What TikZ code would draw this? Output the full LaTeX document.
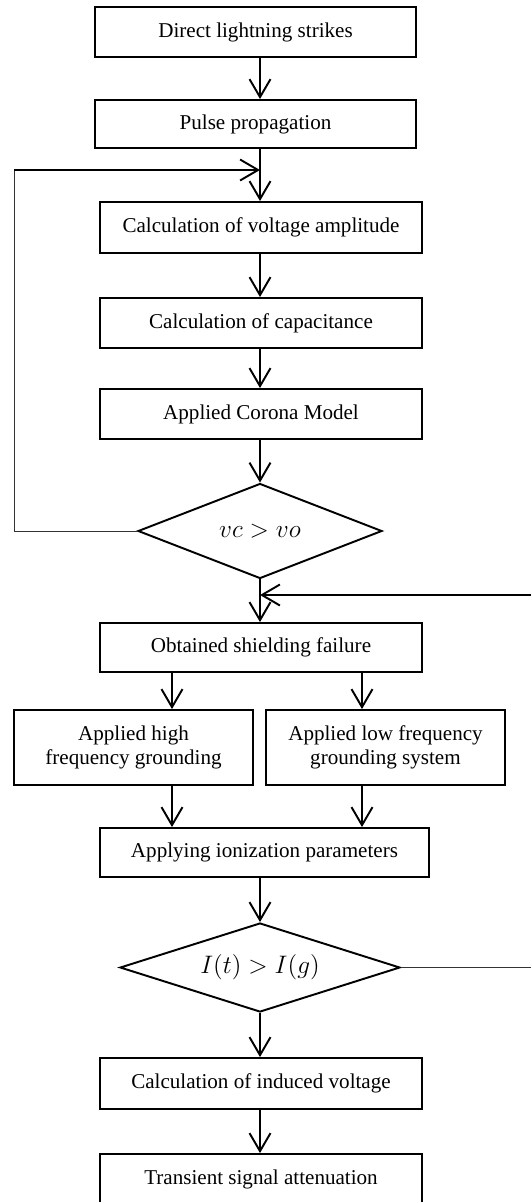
\documentclass[tikz,border=0pt]{standalone}
\usepackage{fontspec}
\setmainfont{Liberation Serif}
\usetikzlibrary{shapes.geometric,arrows.meta}
\begin{document}
\begin{tikzpicture}[x=0.2mm,y=-0.2mm]
    \tikzset{
    blk/.style={rectangle,draw,line width=1.1pt,minimum width=64.4mm,minimum height=10mm,inner sep=0pt,align=center,font=\fontsize{12}{13.6}\selectfont},
    dec/.style={diamond,draw,line width=1.1pt,inner sep=0pt,font=\fontsize{14}{16}\selectfont},
    c1/.style={-{Straight Barb[length=3.6mm,width=4.2mm]},line width=1.1pt},
    c2/.style={line width=0.5pt,draw=black!80},
    }
    \useasboundingbox (0,0) rectangle (530,1202);
    \coordinate (sp) at (260,0);
    \coordinate (ba) at (172,0);
    \coordinate (bb) at (362,0);
    \node[blk,minimum width=64.2mm] (n1) at (255.5,32) {Direct lightning strikes};
    \node[blk,minimum width=64.2mm,minimum height=9.6mm] (n2) at (255.5,124) {Pulse propagation};
    \node[blk,minimum height=10.2mm] (n3) at (261,227.5) {Calculation of voltage amplitude};
    \node[blk] (n4) at (261,323) {Calculation of capacitance};
    \node[blk] (n5) at (261,414) {Applied Corona Model};
    \node[dec,aspect=2.57,minimum width=48.8mm,minimum height=19mm] (d1) at (260,531) {$vc > vo$};
    \node[blk,minimum height=9.8mm] (n6) at (261,647.5) {Obtained shielding failure};
    \node[blk,minimum width=47.8mm,minimum height=15mm] (n7) at (133.5,747.5) {Applied high\\frequency grounding};
    \node[blk,minimum width=47.8mm,minimum height=15mm] (n8) at (385.5,747.5) {Applied low frequency\\grounding system};
    \node[blk,minimum width=65.8mm,minimum height=9.8mm] (n9) at (264.5,852.5) {Applying ionization parameters};
    \node[dec,aspect=3.15,minimum width=56mm,minimum height=17.8mm] (d2) at (260,967.5) {$I(t) > I(g)$};
    \node[blk,minimum height=10.2mm] (n10) at (261,1083.5) {Calculation of induced voltage};
    \node[blk] (n11) at (261,1179) {Transient signal attenuation};

    \coordinate (j1) at (260,170);
    \coordinate (l1) at (14,170);
    \coordinate (j2) at (260,595);
    \coordinate (l2) at (531,595);

    \draw[c1] (n1.south -| sp) -- (n2.north -| sp);
    \draw[c1] (n2.south -| sp) -- (n3.north -| sp);
    \draw[c1] (n3.south -| sp) -- (n4.north -| sp);
    \draw[c1] (n4.south -| sp) -- (n5.north -| sp);
    \draw[c1] (n5.south -| sp) -- (d1.north);
    \draw[c2] (d1.west) -| (l1);
    \draw[c1] (l1) -- (j1);
    \draw[c1] (d1.south) -- (n6.north -| sp);
    \draw[c1] (n6.south -| ba) -- (n7.north -| ba);
    \draw[c1] (n6.south -| bb) -- (n8.north -| bb);
    \draw[c1] (n7.south -| ba) -- (n9.north -| ba);
    \draw[c1] (n8.south -| bb) -- (n9.north -| bb);
    \draw[c1] (n9.south -| sp) -- (d2.north);
    \draw[c2] (d2.east) -| (l2);
    \draw[c1] (l2) -- (j2);
    \draw[c1] (d2.south) -- (n10.north -| sp);
    \draw[c1] (n10.south -| sp) -- (n11.north -| sp);
\end{tikzpicture}
\end{document}
